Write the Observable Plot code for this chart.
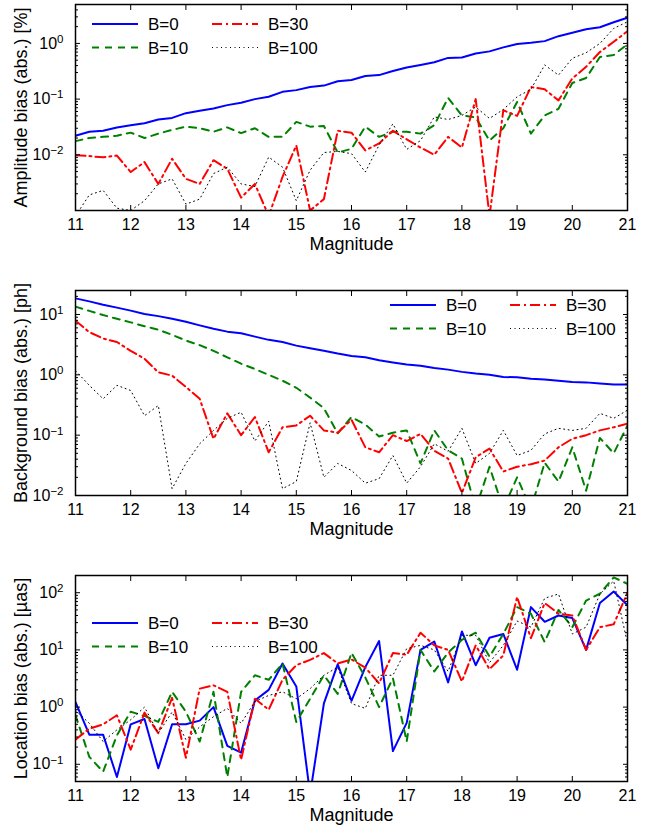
<!DOCTYPE html>
<html><head><meta charset="utf-8">
<script src="https://cdn.jsdelivr.net/npm/d3@7"></script>
<script src="https://cdn.jsdelivr.net/npm/@observablehq/plot@0.6"></script>
<style>
body{margin:0;background:#fff;}
#wrap{position:relative;width:652px;height:826px;font-family:"Liberation Sans",Arial,Helvetica,sans-serif;}
#wrap svg{display:block;}
#legend{position:absolute;left:0;top:0;pointer-events:none;}
</style></head><body><div id="wrap"></div>
<script>
const magnitudes = [11,11.25,11.5,11.75,12,12.25,12.5,12.75,13,13.25,13.5,13.75,14,14.25,14.5,14.75,15,15.25,15.5,15.75,16,16.25,16.5,16.75,17,17.25,17.5,17.75,18,18.25,18.5,18.75,19,19.25,19.5,19.75,20,20.25,20.5,20.75,21];
const xTicks = [11,12,13,14,15,16,17,18,19,20,21];
const seriesNames = ["B=0","B=10","B=30","B=100"];

// Amplitude bias (abs.) [%]
const amp0   = [0.022,0.026,0.027,0.031,0.034,0.037,0.043,0.046,0.056,0.062,0.068,0.078,0.086,0.10,0.11,0.135,0.145,0.165,0.175,0.21,0.22,0.26,0.27,0.32,0.37,0.41,0.46,0.55,0.56,0.66,0.72,0.85,0.98,1.03,1.1,1.35,1.55,1.8,1.95,2.4,2.9];
const amp10  = [0.0176,0.020,0.021,0.022,0.025,0.020,0.024,0.028,0.032,0.030,0.026,0.031,0.0245,0.030,0.021,0.021,0.039,0.032,0.033,0.011,0.0128,0.032,0.021,0.026,0.026,0.024,0.034,0.105,0.051,0.047,0.018,0.03,0.089,0.024,0.051,0.067,0.195,0.24,0.57,0.62,0.97];
const amp30  = [0.0098,0.0095,0.009,0.0097,0.0049,0.0074,0.003,0.0085,0.0037,0.003,0.008,0.0056,0.0017,0.003,0.0008,0.004,0.0147,0.001,0.0016,0.027,0.025,0.012,0.016,0.027,0.019,0.0135,0.010,0.021,0.0135,0.10,0.0008,0.063,0.05,0.165,0.15,0.095,0.235,0.38,0.7,1.07,1.66];
const amp100 = [0.0008,0.0019,0.0023,0.0011,0.001,0.0015,0.003,0.0037,0.0013,0.0016,0.0046,0.006,0.003,0.0027,0.0091,0.006,0.0015,0.0053,0.011,0.0115,0.0105,0.0049,0.015,0.036,0.0125,0.018,0.048,0.043,0.051,0.072,0.045,0.065,0.11,0.15,0.41,0.27,0.54,0.68,1.0,1.86,2.45];

// Background bias (abs.) [ph]
const bg0   = [18.5,16.5,14.5,13,11.6,10.2,9.4,8.5,7.6,6.6,5.8,5.2,4.9,4.3,3.8,3.5,3.05,2.75,2.5,2.25,2.05,1.95,1.75,1.6,1.48,1.42,1.3,1.22,1.12,1.05,1.0,0.92,0.91,0.86,0.84,0.8,0.76,0.75,0.72,0.69,0.69];
const bg10  = [13.5,11.5,9.8,8.5,7.4,6.4,5.6,4.6,3.7,3.1,2.5,1.95,1.53,1.25,1.0,0.8,0.61,0.42,0.28,0.107,0.2,0.15,0.095,0.11,0.12,0.034,0.12,0.056,0.041,0.006,0.03,0.006,0.02,0.006,0.035,0.017,0.063,0.012,0.09,0.05,0.145];
const bg30  = [7.9,5.1,4.0,3.5,2.5,1.85,1.1,0.97,0.63,0.4,0.087,0.23,0.1,0.2,0.052,0.135,0.145,0.21,0.12,0.11,0.18,0.063,0.052,0.1,0.08,0.105,0.055,0.041,0.011,0.043,0.06,0.025,0.03,0.033,0.038,0.063,0.087,0.1,0.12,0.135,0.155];
const bg100 = [1.17,0.67,0.4,0.67,0.55,0.21,0.31,0.013,0.034,0.072,0.12,0.19,0.24,0.08,0.17,0.013,0.017,0.16,0.02,0.034,0.026,0.016,0.019,0.046,0.016,0.03,0.072,0.054,0.13,0.034,0.05,0.12,0.046,0.056,0.105,0.13,0.12,0.13,0.23,0.19,0.26];

// Location bias (abs.) [µas]
const loc0   = [1.22,0.33,0.33,0.06,0.5,0.62,0.085,0.5,0.5,0.58,1.0,0.21,0.16,1.3,2.0,5.8,2.3,0.03,1.16,5.6,1.29,5.0,14.3,0.17,0.53,10,14,2.7,21,5.4,16.3,19,4.5,56,31,40,36,10,66,105,60];
const loc10  = [0.72,0.135,0.074,0.32,0.83,0.7,0.55,1.85,0.83,0.25,1.85,0.06,1.85,3.6,3.0,5.8,0.55,1.4,3.6,1.7,8.9,3.3,1.0,3.2,0.25,10,4.2,9,15,20,7.6,19,56,43,13.7,50,25,73,96,185,143];
const loc30  = [0.27,0.42,0.5,0.72,0.18,0.8,0.35,1.45,0.13,2.1,2.4,1.85,0.12,1.4,0.9,3.0,5.4,6.7,8.8,5.8,6.8,4.9,2.6,8.8,8.2,20,12,10,2.8,12,4.6,8,84,16,66,43,40,10,25,28,100];
const loc100 = [0.88,0.52,0.25,0.4,0.6,1.0,0.35,0.82,0.27,0.45,0.68,0.95,0.52,1.25,1.6,1.85,1.4,2.1,3.6,5.0,1.15,0.95,3.6,3.6,10.5,12,10,4.2,18,18,6,12,32,25,80,95,19,25,95,160,13];

const colors = ["#0000ff","#008000","#ff0000","#000000"];
const dashes = [null,"7,6","10,4,2,4","1,3.5"];
const widths = [2,2,2,1];

const panels = [
  {label:"Amplitude bias (abs.) [%]", domain:[0.001,5], majors:[0.01,0.1,1], series:[amp0,amp10,amp30,amp100],
   height:270, marginTop:4, marginBottom:60, legend:{x:92, y:24, col:120}},
  {label:"Background bias (abs.) [ph]", domain:[0.01,25], majors:[0.01,0.1,1,10], series:[bg0,bg10,bg30,bg100],
   height:285, marginTop:20, marginBottom:60, legend:{x:390, y:305, col:120}},
  {label:"Location bias (abs.) [µas]", domain:[0.05,200], majors:[0.1,1,10,100], series:[loc0,loc10,loc30,loc100],
   height:271, marginTop:20, marginBottom:45, legend:{x:92, y:623, col:120}}
];

function minorTicks([lo, hi]) {
  const out = [];
  for (let e = Math.floor(Math.log10(lo)); e <= Math.ceil(Math.log10(hi)); e++) {
    for (let k = 2; k <= 9; k++) {
      const v = k * Math.pow(10, e);
      if (v > lo * 1.0001 && v < hi * 0.9999) out.push(+v.toPrecision(3));
    }
  }
  return out;
}

const wrap = document.getElementById("wrap");
const ns = "http://www.w3.org/2000/svg";
const blank = () => "";

panels.forEach(p => {
  const minors = minorTicks(p.domain);
  const lineMarks = p.series.map((s, i) => Plot.line(magnitudes.map((m, j) => ({m, v: s[j]})), {
    x: "m", y: "v", stroke: colors[i], strokeWidth: widths[i], strokeDasharray: dashes[i], clip: true
  }));
  const chart = Plot.plot({
    width: 652, height: p.height,
    marginLeft: 75, marginRight: 25, marginTop: p.marginTop, marginBottom: p.marginBottom,
    style: {fontFamily: '"Liberation Sans", Arial, Helvetica, sans-serif', fontSize: "16px", color: "#000", background: "#fff"},
    x: {domain: [11, 21]},
    y: {type: "log", domain: p.domain},
    marks: [
      ...lineMarks,
      Plot.axisX({anchor: "bottom", ticks: xTicks, tickSize: -5, tickPadding: 13, tickFormat: d => String(d), label: null, fontSize: 16}),
      Plot.axisX({anchor: "top", ticks: xTicks, tickSize: -5, tickFormat: blank, label: null}),
      Plot.axisY({anchor: "left", ticks: p.majors, tickSize: -5, tickPadding: 17, tickFormat: d => "10^" + Math.round(Math.log10(d)), label: null, fontSize: 16}),
      Plot.axisY({anchor: "left", ticks: minors, tickSize: -3, tickFormat: blank, label: null}),
      Plot.axisY({anchor: "right", ticks: p.majors, tickSize: -5, tickFormat: blank, label: null}),
      Plot.axisY({anchor: "right", ticks: minors, tickSize: -3, tickFormat: blank, label: null}),
      Plot.frame({stroke: "#000", strokeWidth: 1.5}),
      Plot.text(["Magnitude"], {text: d => d, frameAnchor: "bottom", dy: 39, lineAnchor: "bottom", fontSize: 18}),
      Plot.text([p.label], {text: d => d, frameAnchor: "left", dx: -61, rotate: -90, textAnchor: "middle", lineAnchor: "top", fontSize: 18})
    ]
  });
  chart.querySelectorAll('g[aria-label="y-axis tick label"] text').forEach(t => {
    const s = t.textContent;
    if (!s.startsWith("10^")) return;
    const ex = s.slice(3).replace("-", "\u2212");
    t.textContent = "10";
    const ts = document.createElementNS(ns, "tspan");
    ts.setAttribute("dy", "-0.5em");
    ts.setAttribute("font-size", "11.5");
    ts.textContent = ex;
    t.appendChild(ts);
  });
  wrap.appendChild(chart);
});

// Legends
const leg = d3.select(wrap).append("svg").attr("id", "legend").attr("width", 652).attr("height", 826);
panels.forEach(p => {
  const L = p.legend;
  seriesNames.forEach((name, i) => {
    const col = i === 0 || i === 1 ? 0 : 1;
    const row = i === 0 || i === 2 ? 0 : 1;
    const x0 = L.x + col * L.col, y0 = L.y + row * 23.5;
    leg.append("line").attr("x1", x0).attr("x2", x0 + 46).attr("y1", y0).attr("y2", y0)
      .attr("stroke", colors[i]).attr("stroke-width", widths[i]).attr("stroke-dasharray", dashes[i]);
    leg.append("text").attr("x", x0 + 56).attr("y", y0).attr("dy", "0.36em")
      .attr("font-size", 17).attr("fill", "#000").text(name);
  });
});
</script></body></html>
